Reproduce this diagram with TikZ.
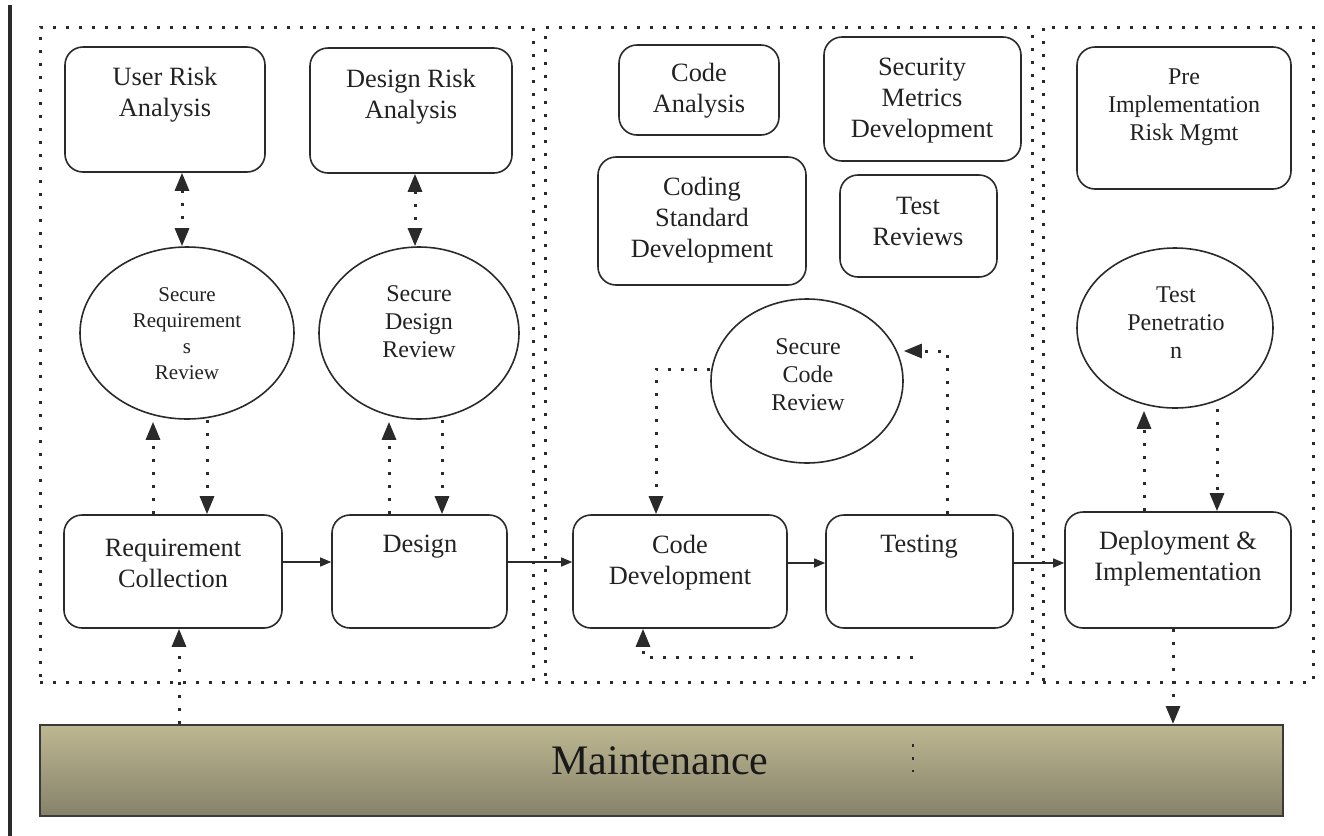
\documentclass[tikz,border=0pt]{standalone}
\usepackage{fontspec}
\setmainfont{Liberation Serif}
\usetikzlibrary{arrows.meta,fit,shapes.geometric}
\definecolor{ink}{HTML}{222222}
\definecolor{edge}{HTML}{2a2a2a}
\definecolor{mtop}{HTML}{BDB791}
\definecolor{mbot}{HTML}{86826A}
\definecolor{mline}{HTML}{3a3a3a}
\tikzset{
  box/.style={draw=edge, line width=0.8pt, rounded corners=9pt, inner sep=0pt},
  oval/.style={draw=edge, line width=0.8pt, ellipse, inner sep=0pt},
  panel/.style={draw=edge, line width=1.5pt, dash pattern=on 1.5pt off 5pt, inner sep=0pt},
  txt/.style={align=center, text=ink, inner sep=0pt, font=\fontsize{13.2pt}{15.5pt}\selectfont},
  txtsmall/.style={align=center, text=ink, inner sep=0pt, font=\fontsize{10.5pt}{13pt}\selectfont},
  txtmid/.style={align=center, text=ink, inner sep=0pt, font=\fontsize{12pt}{14pt}\selectfont},
  flow/.style={draw=edge, line width=0.7pt, -{Triangle[length=5.5pt,width=4.5pt]}},
  dotline/.style={draw=edge, line width=1.5pt, dash pattern=on 1.5pt off 5pt},
  dotarrow/.style={dotline, -{Triangle[length=9pt,width=7pt]}},
  dotboth/.style={dotline, {Triangle[length=9pt,width=7pt]}-{Triangle[length=9pt,width=7pt]}},
}
\begin{document}
\begin{tikzpicture}[x=0.5pt,y=-0.5pt]
\useasboundingbox (0,0) rectangle (1324,836);

% margin rule on the left
\coordinate (lt) at (10,5);
\coordinate (lb) at (10,836);
\draw[edge, line width=1.6pt] (lt) -- (lb);

% three dotted phase panels
\node[panel, fit={(40,27)(533,682)}] (p1) {};
\node[panel, fit={(545,27)(1032,682)}] (p2) {};
\node[panel, fit={(1043,27)(1313,682)}] (p3) {};

% phase 1: requirements and design
\node[box, fit={(65,47)(265,172)}] (ura) {};
\node[txt] (ura-t) at (165,95) {User Risk\\Analysis};
\node[box, fit={(310,48)(512,173)}] (dra) {};
\node[txt] (dra-t) at (411,97) {Design Risk\\Analysis};
\node[oval, minimum width=107pt, minimum height=86pt] (srr) at (187,333) {};
\node[txtsmall] (srr-t) at (187,334) {Secure\\Requirement\\s\\Review};
\node[oval, minimum width=100pt, minimum height=86pt] (sdr) at (419,333) {};
\node[txtmid] (sdr-t) at (419,322) {Secure\\Design\\Review};
\node[box, fit={(64,515)(282,628)}] (rc) {};
\node[txt] (rc-t) at (173,563) {Requirement\\Collection};
\node[box, fit={(332,515)(507,628)}] (des) {};
\node[txt] (des-t) at (420,547) {Design};

% phase 2: coding and testing
\node[box, fit={(619,45)(779,135)}] (ca) {};
\node[txt] (ca-t) at (699,91) {Code\\Analysis};
\node[box, fit={(824,37)(1021,161)}] (smd) {};
\node[txt] (smd-t) at (922,101) {Security\\Metrics\\Development};
\node[box, fit={(598,157)(806,285)}] (csd) {};
\node[txt] (csd-t) at (702,220) {Coding\\Standard\\Development};
\node[box, fit={(840,175)(997,277)}] (tr) {};
\node[txt] (tr-t) at (918,221) {Test\\Reviews};
\node[oval, minimum width=96pt, minimum height=82pt] (scr) at (807,381) {};
\node[txtmid] (scr-t) at (808,375) {Secure\\Code\\Review};
\node[box, fit={(573,515)(787,628)}] (cd) {};
\node[txt] (cd-t) at (680,563) {Code\\Development};
\node[box, fit={(826,515)(1013,628)}] (tst) {};
\node[txt] (tst-t) at (919,547) {Testing};

% phase 3: deployment
\node[box, fit={(1077,47)(1291,189)}] (pirm) {};
\node[txtmid] (pirm-t) at (1184,107) {Pre\\Implementation\\Risk Mgmt};
\node[oval, minimum width=98pt, minimum height=80pt] (tp) at (1175,328) {};
\node[txtmid] (tp-t) at (1176,323) {Test\\Penetratio\\n};
\node[box, fit={(1065,512)(1291,628)}] (di) {};
\node[txt] (di-t) at (1178,559) {Deployment \&\\Implementation};

% maintenance bar
\node[draw=mline, line width=1pt, top color=mtop, bottom color=mbot, inner sep=0pt,
      fit={(40,725)(1283,816)}] (maint) {};
\node[text=black!90, inner sep=0pt, font=\fontsize{21pt}{25pt}\selectfont] (maint-t) at (660,761) {Maintenance};
\coordinate (mA) at (913,744);
\coordinate (mB) at (913,772);
\draw[dotline, line width=1.2pt] (mA) -- (mB);

% main flow
\draw[flow] ([yshift=4.75pt]rc.east) -- ([yshift=4.75pt]rc.east -| des.west);
\draw[flow] ([yshift=4.75pt]des.east) -- ([yshift=4.75pt]des.east -| cd.west);
\draw[flow] ([yshift=4.25pt]cd.east) -- ([yshift=4.25pt]cd.east -| tst.west);
\draw[flow] ([yshift=4.25pt]tst.east) -- ([yshift=4.25pt]tst.east -| di.west);

% risk analysis links
\draw[dotboth] ([xshift=8.5pt]ura.south) -- ([xshift=8.5pt]ura.south |- srr.north);
\draw[dotboth] ([xshift=2pt]dra.south) -- ([xshift=2pt]dra.south |- sdr.north);

% review loops
\draw[dotarrow, shorten >=1pt] ([xshift=-10pt]rc.north) -- ([xshift=-10pt]rc.north |- srr.south);
\draw[dotarrow] ([xshift=17pt]rc.north |- srr.south) -- ([xshift=17pt]rc.north);
\draw[dotarrow, shorten >=1pt] ([xshift=-15.25pt]des.north) -- ([xshift=-15.25pt]des.north |- sdr.south);
\draw[dotarrow] ([xshift=11.25pt]des.north |- sdr.south) -- ([xshift=11.25pt]des.north);
\draw[dotarrow] ([yshift=6pt]scr.west) -| ([xshift=-12pt]cd.north);
\draw[dotarrow] ([xshift=13.75pt]tst.north) |- ([yshift=15pt]scr.east);
\coordinate (loop) at (913,657);
\draw[dotarrow] (loop) -| ([xshift=-18.5pt]cd.south);
\draw[dotarrow, shorten >=1pt] ([xshift=-17pt]di.north) -- ([xshift=-17pt]di.north |- tp.south);
\draw[dotarrow] ([xshift=19.5pt]di.north |- tp.south) -- ([xshift=19.5pt]di.north);

% maintenance links
\draw[dotarrow] ([xshift=-2.5pt]di.south) -- ([xshift=-2.5pt]di.south |- maint.north);
\draw[dotarrow] ([xshift=3pt]rc.south |- maint.north) -- ([xshift=3pt]rc.south);
\end{tikzpicture}
\end{document}
